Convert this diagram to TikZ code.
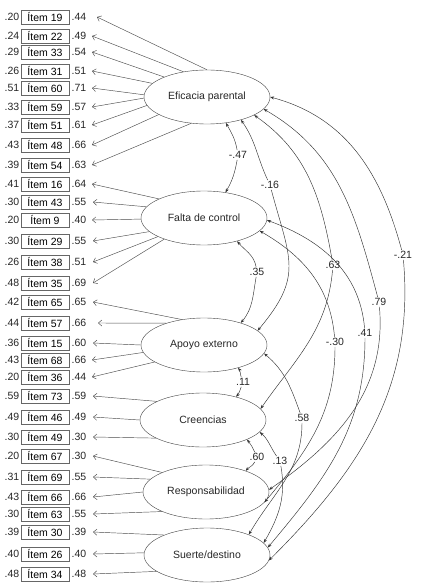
\documentclass[tikz,border=0pt]{standalone}
\usepackage{fontspec}
\setmainfont{Liberation Sans}
\usetikzlibrary{shapes.geometric,arrows.meta}
\begin{document}
\begin{tikzpicture}[x=1pt,y=1pt,font=\fontsize{10.5}{12}\selectfont,
  itembox/.style={draw=black!60, minimum width=48pt, minimum height=14pt, inner sep=0pt},
  val/.style={inner sep=0pt, text=black!85},
  lat/.style={draw=black!75, ellipse, minimum width=126pt, minimum height=54pt, inner sep=0pt, text=black!85},
  load/.style={draw=black!70, line width=0.45pt, -{Straight Barb[length=3.5pt,width=6pt]}},
  half/.style={draw=black!80, line width=0.45pt, -{Stealth[length=4pt,width=3pt]}},
  clab/.style={inner sep=1pt, text=black!85}]
\useasboundingbox (0,0) rectangle (431,-588);

% latent factors
\node[lat] (E1) at (207,-97) {Eficacia parental};
\node[lat] (F2) at (204,-218) {Falta de control};
\node[lat] (F3) at (204,-345) {Apoyo externo};
\node[lat] (F4) at (203,-420) {Creencias};
\node[lat] (F5) at (206,-492) {Responsabilidad};
\node[lat] (F6) at (207,-555) {Suerte/destino};

% items
\foreach \n/\y/\l/\r/\tx in {
 19/17/.20/.44/97, 22/36/.24/.49/92, 33/52/.29/.54/92, 31/71/.26/.51/92,
 60/88/.51/.71/92, 59/107/.33/.57/92, 51/125/.37/.61/92, 48/145/.43/.66/92,
 54/165/.39/.63/92, 16/184/.41/.64/92, 43/202/.30/.55/93, 9/220/.20/.40/92,
 29/241/.30/.55/93, 38/262/.26/.51/93, 35/283/.48/.69/93, 65/302/.42/.65/93,
 57/323/.44/.66/98, 15/343/.36/.60/93, 68/360/.43/.66/92, 36/377/.20/.44/92,
 73/396/.59/.59/93, 46/417/.49/.49/93, 49/437/.30/.30/93, 67/456/.20/.30/93,
 69/477/.31/.55/93, 66/497/.43/.66/93, 63/514/.30/.55/93, 30/532/.39/.39/93,
 26/554/.40/.40/93, 34/574/.48/.48/93}{
  \node[itembox] (i\n) at (45,-\y) {Ítem \n};
  \node[val, anchor=east] (l\n) at (19.5,-\y) {\l};
  \node[val, anchor=west] (r\n) at (71.5,-\y) {\r};
  \coordinate (t\n) at (\tx,-\y);
}

% loadings
\foreach \f/\a/\n in {
 E1/90/19, E1/133/22, E1/155/33, E1/166/31, E1/178/60, E1/181/59, E1/188/51, E1/200/48, E1/239/54,
 F2/157/16, F2/169/43, F2/181/9, F2/194/29, F2/202/38, F2/208/35,
 F3/131/65, F3/150/57, F3/180/15, F3/187/68, F3/199/36,
 F4/158/73, F4/180/46, F4/201/49,
 F5/156/67, F5/167/69, F5/180/66, F5/204/63,
 F6/155/30, F6/178/26, F6/198/34}{
  \draw[load] (\f.\a) -- (t\n);
}

% correlations
\node[clab] (c1) at (238,-155) {-.47};
\draw[half] (c1) to[out=100,in=-60] (E1.-54);
\draw[half] (c1) to[out=-100,in=60] (F2.50);

\node[clab] (c2) at (257,-272) {.35};
\draw[half] (c2) to[out=100,in=-50] (F2.-35);
\draw[half] (c2) to[out=-100,in=50] (F3.31);

\node[clab] (c3) at (243,-382) {.11};
\draw[half] (c3) to[out=110,in=-50] (F3.-34);
\draw[half] (c3) to[out=-110,in=50] (F4.35);

\node[clab] (c4) at (257,-457) {.60};
\draw[half] (c4) to[out=115,in=-50] (F4.-24);
\draw[half] (c4) to[out=-115,in=50] (F5.28);

\node[clab] (c5) at (280,-461) {.13};
\draw[half] (c5) to[out=125,in=-40] (F4.-12);
\draw[half] (c5) to[out=-80,in=60] (F6.12);

\node[clab] (c6) at (270,-185) {-.16};
\draw[half] (c6) to[out=115,in=-55] (E1.-34);
\draw[half] (c6) to[out=-75,in=50,looseness=1.3] (F3.15);

\node[clab] (c7) at (333,-265) {.63};
\draw[half] (c7) to[out=100,in=-35] (E1.-21);
\draw[half] (c7) to[out=-95,in=55] (F4.11);

\node[clab] (c8) at (379,-302) {.79};
\draw[half] (c8) to[out=105,in=-30] (E1.-12);
\draw[half] (c8) to[out=-85,in=35] (F5.2);

\node[clab] (c9) at (403,-255) {-.21};
\draw[half] (c9) to[out=105,in=-15] (E1.0);
\draw[half] (c9) to[out=-85,in=45] (F6.-5);

\node[clab] (c10) at (335,-342) {-.30};
\draw[half] (c10) to[out=95,in=-30] (F2.-13);
\draw[half] (c10) to[out=-90,in=50] (F5.-10);

\node[clab] (c11) at (365,-333) {.41};
\draw[half] (c11) to[out=95,in=-20] (F2.-2);
\draw[half] (c11) to[out=-90,in=50] (F6.7);

\node[clab] (c12) at (302,-418) {.58};
\draw[half] (c12) to[out=110,in=-40] (F3.-8);
\draw[half] (c12) to[out=-90,in=60] (F6.26);
\end{tikzpicture}
\end{document}
